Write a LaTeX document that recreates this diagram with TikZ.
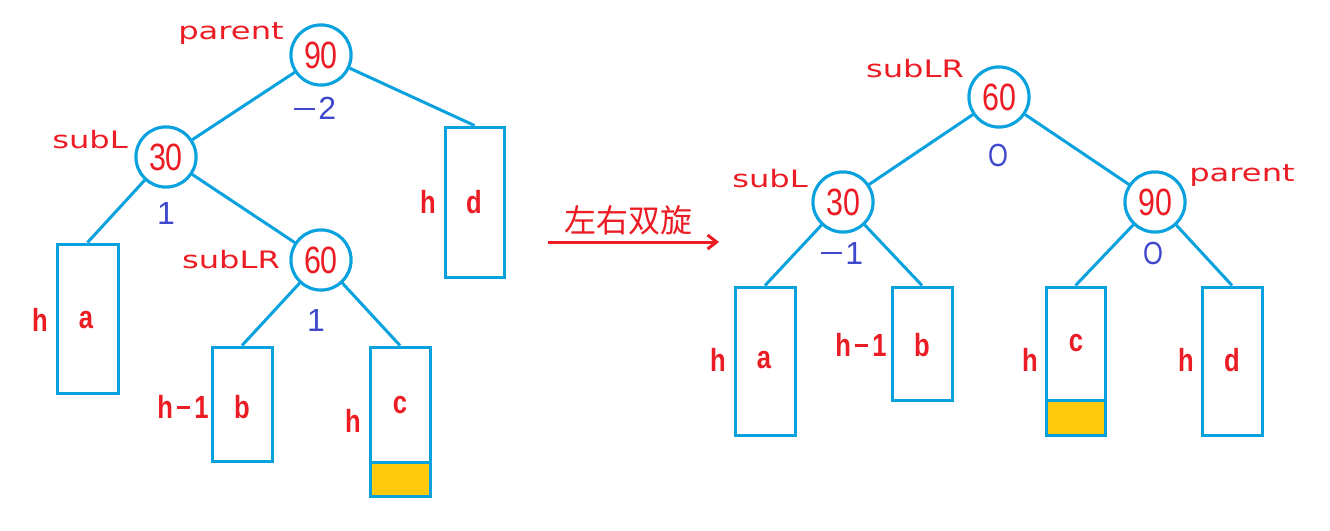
\documentclass[tikz,border=0pt]{standalone}
\usepackage{fontspec}
\usepackage{graphicx}
\setmainfont{Liberation Sans}
\newfontfamily\cjk{Noto Sans CJK SC}
\newfontfamily\dvs{DejaVu Sans}
\usetikzlibrary{arrows.meta}
\definecolor{lblue}{HTML}{0AA2DE}
\definecolor{lred}{HTML}{EC1C24}
\definecolor{bfc}{HTML}{3F48CC}
\definecolor{yel}{HTML}{FFC90E}
\tikzset{
  x=1pt,y=-1pt,
  tnode/.style={circle,draw=lblue,line width=3pt,fill=white,minimum size=60pt,inner sep=0pt,
    text=lred,font=\fontsize{38}{38}\selectfont},
  tbox/.style={rectangle,draw=lblue,line width=3pt,fill=white,inner sep=0pt},
  ybox/.style={rectangle,draw=lblue,line width=3pt,fill=yel,inner sep=0pt},
  edge/.style={draw=lblue,line width=3pt},
  role/.style={text=lred,inner sep=0pt,font=\dvs\fontsize{24}{24}\selectfont},
  bf/.style={text=bfc,inner sep=0pt,font=\fontsize{32}{32}\selectfont},
  hl/.style={text=lred,inner sep=0pt,font=\bfseries\fontsize{32}{32}\selectfont},
}
\newcommand{\wide}[1]{\scalebox{1.34}[1]{#1}}
\newcommand{\narrow}[1]{\scalebox{0.8}[1]{#1}}
\newcommand{\hnarrow}[1]{\scalebox{0.8}[1]{#1}}
\newcommand{\lminus}{\rule[0.3em]{0.65em}{0.06em}\hspace{0.12em}}
\begin{document}
\begin{tikzpicture}
\useasboundingbox (0,0) rectangle (1330,530);
% ---------- left tree ----------
\node[tbox,minimum width=59pt,minimum height=150pt] (Ld) at (474.5,202) {};
\node[tbox,minimum width=61pt,minimum height=149pt] (La) at (87.5,318.5) {};
\node[tbox,minimum width=60pt,minimum height=114pt] (Lb) at (242,404) {};
\node[tbox,minimum width=60pt,minimum height=115pt] (Lc) at (400,404.5) {};
\node[ybox,minimum width=60pt,minimum height=34pt] (Lcy) at (400,479) {};

\node[tnode] (L90) at (321,55) {\narrow{90}};
\node[tnode] (L30) at (166,157) {\narrow{30}};
\node[tnode] (L60) at (321,260) {\narrow{60}};

\path[edge] (L90) -- (L30);
\path[edge] (L90) -- (Ld.north);
\path[edge] (L30) -- (La.north);
\path[edge] (L30) -- (L60);
\path[edge] (L60) -- (Lb.north);
\path[edge] (L60) -- (Lc.north);
% redraw nodes on top of edges
\node[tnode] at (L90) {\narrow{90}};
\node[tnode] at (L30) {\narrow{30}};
\node[tnode] at (L60) {\narrow{60}};

\node[role] (tParentL) at (231,34) {\wide{parent}};
\node[role] (tSubLL) at (90,140) {\wide{subL}};
\node[role] (tSubLRL) at (231,260) {\wide{subLR}};
\node[bf] (bfL90) at (315,108) {\lminus 2};
\node[bf] (bfL30) at (166,213) {1};
\node[bf] (bfL60) at (316,320) {1};

\node[hl] (hLd) at (428,202) {\hnarrow{h}};
\node[hl] (lLd) at (474,202) {\hnarrow{d}};
\node[hl] (hLa) at (40,320) {\hnarrow{h}};
\node[hl] (lLa) at (86,320) {\hnarrow{a}};
\node[hl] (hLb) at (183,407) {\hnarrow{h\,\rule[0.3em]{0.5em}{0.09em}\,1}};
\node[hl] (lLb) at (242,407) {\hnarrow{b}};
\node[hl] (hLc) at (353,421) {\hnarrow{h}};
\node[hl] (lLc) at (400,405) {\hnarrow{c}};

% ---------- arrow ----------
\coordinate (arrS) at (548,242);
\coordinate (arrE) at (719,242);
\draw[draw=lred,line width=3pt,-{Straight Barb[length=9pt,width=14pt]}] (arrS) -- (arrE);
\node[text=lred,inner sep=0pt,font=\cjk\fontsize{32}{32}\selectfont] (rotlbl) at (628,220) {左右双旋};

% ---------- right tree ----------
\node[tbox,minimum width=60pt,minimum height=148pt] (Ra) at (765,361) {};
\node[tbox,minimum width=60pt,minimum height=113pt] (Rb) at (922,343.5) {};
\node[tbox,minimum width=59pt,minimum height=113pt] (Rc) at (1075.5,343.5) {};
\node[ybox,minimum width=59pt,minimum height=35pt] (Rcy) at (1075.5,417.5) {};
\node[tbox,minimum width=60pt,minimum height=148pt] (Rd) at (1232,361) {};

\node[tnode] (R60) at (999,97) {\narrow{60}};
\node[tnode] (R30) at (843,202) {\narrow{30}};
\node[tnode] (R90) at (1155,202) {\narrow{90}};

\path[edge] (R60) -- (R30);
\path[edge] (R60) -- (R90);
\path[edge] (R30) -- (Ra.north);
\path[edge] (R30) -- (Rb.north);
\path[edge] (R90) -- (Rc.north);
\path[edge] (R90) -- (Rd.north);
\node[tnode] at (R60) {\narrow{60}};
\node[tnode] at (R30) {\narrow{30}};
\node[tnode] at (R90) {\narrow{90}};

\node[role] (tSubLRR) at (915,69) {\wide{subLR}};
\node[role] (tSubLR) at (770,179) {\wide{subL}};
\node[role] (tParentR) at (1242,176) {\wide{parent}};
\node[bf] (bfR60) at (998,155) {\scalebox{0.8}[1]{O}};
\node[bf] (bfR30) at (842,253) {\lminus 1};
\node[bf] (bfR90) at (1153,253) {\scalebox{0.8}[1]{O}};

\node[hl] (hRa) at (718,360) {\hnarrow{h}};
\node[hl] (lRa) at (764,360) {\hnarrow{a}};
\node[hl] (hRb) at (861,345) {\hnarrow{h\,\rule[0.3em]{0.5em}{0.09em}\,1}};
\node[hl] (lRb) at (922,345) {\hnarrow{b}};
\node[hl] (hRc) at (1030,360) {\hnarrow{h}};
\node[hl] (lRc) at (1076,343) {\hnarrow{c}};
\node[hl] (hRd) at (1186,360) {\hnarrow{h}};
\node[hl] (lRd) at (1232,360) {\hnarrow{d}};
\end{tikzpicture}
\end{document}
